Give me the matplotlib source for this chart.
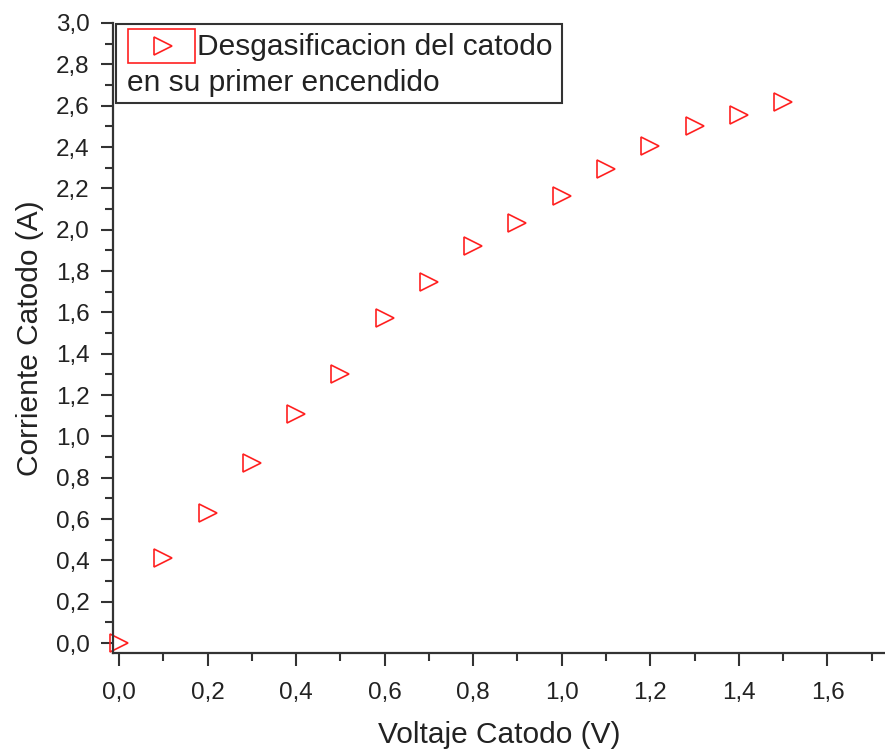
import matplotlib
matplotlib.use("Agg")
import matplotlib.pyplot as plt
from matplotlib.ticker import MultipleLocator, FuncFormatter
from matplotlib.patches import Rectangle
from matplotlib.lines import Line2D

voltaje = [0.0, 0.1, 0.2, 0.3, 0.4, 0.5, 0.6, 0.7, 0.8, 0.9, 1.0, 1.1, 1.2, 1.3, 1.4, 1.5]
corriente = [0.0, 0.41, 0.63, 0.87, 1.11, 1.30, 1.575, 1.745, 1.92, 2.03, 2.165, 2.295, 2.405, 2.50, 2.555, 2.62]
legend_line1 = "Desgasificacion del catodo"
legend_line2 = "en su primer encendido"

plt.rcParams['font.family'] = ['Liberation Sans', 'DejaVu Sans']
W, H = 885, 754
fig = plt.figure(figsize=(W / 100, H / 100), dpi=100)
ax = fig.add_axes([113 / W, 101 / H, (W - 113) / W, (653 - 23) / H])

red = '#ff2020'
ax.plot(voltaje, corriente, linestyle='none', marker='>', markersize=12.5,
        markerfacecolor='none', markeredgecolor=red, markeredgewidth=1.2, clip_on=False)

ax.set_xlim(-0.0135, 1.73)
ax.set_ylim(-0.048, 3.0)
for s in ['top', 'right']:
    ax.spines[s].set_visible(False)
for s in ['left', 'bottom']:
    ax.spines[s].set_linewidth(1.6)
    ax.spines[s].set_color('#333333')

fmt = FuncFormatter(lambda v, p: f"{v:.1f}".replace('.', ','))
ax.xaxis.set_major_locator(MultipleLocator(0.2))
ax.xaxis.set_minor_locator(MultipleLocator(0.1))
ax.yaxis.set_major_locator(MultipleLocator(0.2))
ax.yaxis.set_minor_locator(MultipleLocator(0.1))
ax.xaxis.set_major_formatter(fmt)
ax.yaxis.set_major_formatter(fmt)
ax.tick_params(which='major', direction='out', length=9, width=1.5, color='#333333',
               labelsize=17.5, labelcolor='#222222')
ax.tick_params(which='minor', direction='out', length=5.5, width=1.5, color='#333333')
ax.tick_params(axis='x', which='major', pad=12)
ax.tick_params(axis='y', which='major', pad=8)

ax.set_xlabel('Voltaje Catodo (V)', fontsize=21.5, color='#222222', labelpad=12)
ax.set_ylabel('Corriente Catodo (A)', fontsize=21.5, color='#222222', labelpad=8)

def fx(x):
    return x / W

def fy(y):
    return 1 - y / H

# legend box (Origin style)
fig.patches.append(Rectangle((fx(116), fy(103)), fx(562) - fx(116), (103 - 24) / H,
                             transform=fig.transFigure, fill=False, edgecolor='#333333',
                             linewidth=1.5))
fig.patches.append(Rectangle((fx(128), fy(63)), fx(195) - fx(128), (63 - 29) / H,
                             transform=fig.transFigure, fill=False, edgecolor=red,
                             linewidth=1.2))
fig.lines.append(Line2D([fx(163)], [fy(46)], transform=fig.transFigure, marker='>',
                        markersize=12.5, markerfacecolor='none', markeredgecolor=red,
                        markeredgewidth=1.2, linestyle='none'))
fig.text(fx(197), fy(47), legend_line1, fontsize=21.5, color='#222222', va='center', ha='left')
fig.text(fx(127), fy(83), legend_line2, fontsize=21.5, color='#222222', va='center', ha='left')

fig.savefig('out.png', dpi=100)
